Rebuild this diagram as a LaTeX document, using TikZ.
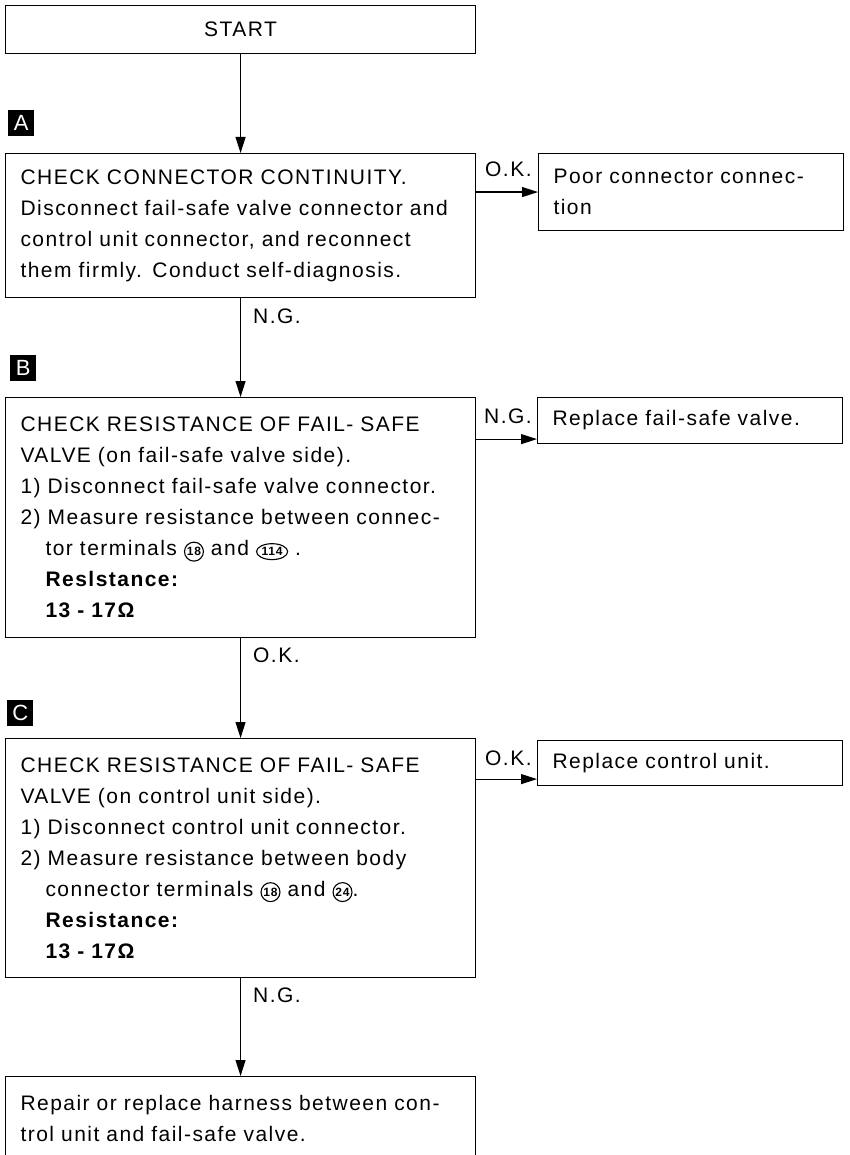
\documentclass[tikz,border=0pt]{standalone}
\usepackage{fontspec}
\setmainfont[LetterSpace=7,WordSpace=1.65]{Liberation Sans}
\usetikzlibrary{arrows.meta,shapes.geometric}

% circled terminal numbers
\newcommand{\termno}[1]{\tikz[baseline=(tn.base)]\node[draw,circle,line width=1.1pt,inner sep=0.9pt,text width={},minimum width=0pt,minimum height=0pt,anchor=base,align=center,font=\fontsize{12}{12}\selectfont\bfseries] (tn) {#1};}
\newcommand{\termnowide}[1]{\tikz[baseline=(tn.base)]\node[draw,ellipse,line width=1.1pt,inner xsep=0.5pt,inner ysep=1.5pt,text width={},minimum width=0pt,minimum height=0pt,anchor=base,align=center,font=\fontsize{12}{12}\selectfont\bfseries] (tn) {#1};}

\begin{document}
\begin{tikzpicture}[x=1pt,y=-1pt,
    box/.style={draw,line width=1.1pt,anchor=north west,inner xsep=15pt,inner ysep=0pt,
      text width=440pt,minimum width=470pt,align=left,font=\fontsize{21}{31}\selectfont},
    sidebox/.style={box,text width=275pt,minimum width=305pt},
    tag/.style={fill=black,text=white,minimum size=26pt,inner sep=0pt,anchor=north west,
      font=\fontsize{22}{22}\selectfont},
    lbl/.style={anchor=base west,inner sep=0pt,font=\fontsize{21}{20}\selectfont},
    arr/.style={line width=1.1pt,-{Triangle[length=16pt,width=10pt]}}]
  \useasboundingbox (0,0) rectangle (849,1155);

  \node[box,align=center,minimum height=48pt] (start) at (5,5) {START};

  % step A
  \node[tag] (tagA) at (8,110) {A};
  \node[box,minimum height=144pt] (chkA) at (5,153) {CHECK CONNECTOR CONTINUITY.\\
    Disconnect fail-safe valve connector and\\
    control unit connector, and reconnect\\
    them firmly. Conduct self-diagnosis.};
  \node[sidebox,minimum height=77pt] (poor) at (538,153) {Poor connector connec-\\tion};

  % step B
  \node[tag] (tagB) at (10,355) {B};
  \node[box,minimum height=240pt] (chkB) at (5,397) {CHECK RESISTANCE OF FAIL- SAFE\\
    VALVE (on fail-safe valve side).\\
    1) Disconnect fail-safe valve connector.\\
    2) Measure resistance between connec-\\
    \hspace*{25pt}tor terminals \termno{18} and \termnowide{114} .\\
    \hspace*{25pt}\textbf{Reslstance:}\\
    \hspace*{25pt}\textbf{13 - 17Ω}};
  \node[sidebox,minimum height=46pt] (rfsv) at (537,397) {Replace fail-safe valve.};

  % step C
  \node[tag] (tagC) at (7,700) {C};
  \node[box,minimum height=239pt] (chkC) at (5,738) {CHECK RESISTANCE OF FAIL- SAFE\\
    VALVE (on control unit side).\\
    1) Disconnect control unit connector.\\
    2) Measure resistance between body\\
    \hspace*{25pt}connector terminals \termno{18} and \termno{24}.\\
    \hspace*{25pt}\textbf{Resistance:}\\
    \hspace*{25pt}\textbf{13 - 17Ω}};
  \node[sidebox,minimum height=45pt] (rcu) at (537,740) {Replace control unit.};

  \node[box,minimum height=84pt] (harness) at (5,1076) {Repair or replace harness between con-\\
    trol unit and fail-safe valve.};

  % result labels
  \node[lbl] (okA) at (485,177) {O.K.};
  \node[lbl] (ngA) at (253,323) {N.G.};
  \node[lbl] (ngB) at (484,423) {N.G.};
  \node[lbl] (okB) at (253,662) {O.K.};
  \node[lbl] (okC) at (485,765) {O.K.};
  \node[lbl] (ngC) at (253,1002) {N.G.};

  \draw[arr] (start) -- (chkA);
  \draw[arr] (chkA) -- (chkB);
  \draw[arr] (chkB) -- (chkC);
  \draw[arr] (chkC) -- (harness);
  \draw[arr] (poor.west -| chkA.east) -- (poor.west);
  \draw[arr] ([yshift=5pt]rfsv.south west -| chkB.east) -- ([yshift=5pt]rfsv.south west);
  \draw[arr] ([yshift=7pt]rcu.south west -| chkC.east) -- ([yshift=7pt]rcu.south west);
\end{tikzpicture}
\end{document}
